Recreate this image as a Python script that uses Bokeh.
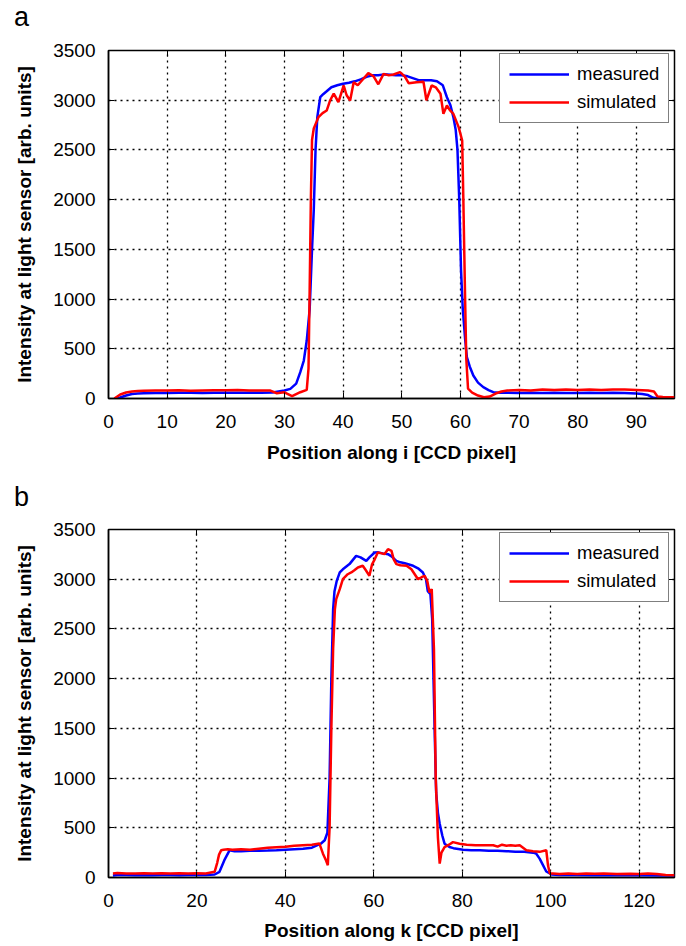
from bokeh.plotting import figure
from bokeh.layouts import column
from bokeh.models import Range1d, FixedTicker, LinearAxis, Legend, LegendItem, Div
from bokeh.embed import file_html
from bokeh.resources import INLINE

# ---------------- data: panel a (position along i) ----------------
A_MEAS_X = [1, 2, 3, 4, 5, 6, 8, 10, 12, 14, 16, 18, 20, 22, 24, 26, 28, 29, 30, 31, 32, 32.7, 33.3, 33.8,
            34.3, 34.7, 35.0, 35.3, 35.6, 36.1, 36.6, 37.2, 38, 39, 40, 41, 42, 43, 44, 45, 46, 47, 48, 49, 50,
            51, 52, 53, 54, 55, 56, 57, 57.7, 58.3, 58.8, 59.2, 59.5, 59.8, 60.1, 60.4, 60.8, 61.1, 61.6, 62.2,
            63, 63.9, 64.8, 65.6, 66.5, 68, 70, 72, 74, 76, 78, 80, 82, 84, 86, 88, 90, 91, 92, 92.9, 94, 96.5]
A_MEAS_Y = [0, 10, 30, 45, 50, 52, 55, 55, 58, 57, 56, 57, 58, 57, 58, 58, 60, 70, 80, 97, 150, 265, 382, 583,
            900, 1500, 1900, 2500, 2830, 3030, 3060, 3090, 3131, 3150, 3165, 3175, 3190, 3210, 3235, 3250, 3250,
            3260, 3255, 3250, 3250, 3240, 3220, 3200, 3200, 3200, 3190, 3150, 3030, 2950, 2830, 2700, 2500, 2000,
            1300, 900, 600, 415, 320, 231, 160, 114, 85, 63, 58, 58, 55, 58, 55, 58, 55, 56, 57, 55, 57, 55, 50,
            45, 35, 7, 0, 0]

A_SIM_X = [1, 2, 3, 4, 5, 6, 8, 10, 12, 14, 16, 18, 20, 22, 24, 26, 27.6, 28.7, 29.9, 31.3, 32.7, 33.8, 34.1,
           34.3, 34.5, 34.7, 35.0, 35.8, 36.5, 37.2, 37.8, 38.4, 39.2, 40.1, 40.6, 41.2, 41.8, 42.5, 43.2, 44.3,
           45.2, 46.0, 46.9, 47.8, 48.6, 49.7, 50.5, 51.2, 52.5, 53.7, 54.2, 55.1, 55.8, 56.6, 57.1, 57.7, 58.2,
           58.8, 59.7, 60.3, 60.5, 60.8, 61.0, 61.3, 62, 63, 64, 65, 66, 67, 68, 70, 72, 74, 76, 78, 80, 82, 84,
           86, 88, 90, 92, 93, 93.6, 94.5, 96.5]
A_SIM_Y = [0, 40, 60, 70, 75, 78, 80, 80, 82, 78, 80, 82, 82, 85, 80, 80, 80, 53, 63, 23, 63, 87, 300, 1100,
           2000, 2600, 2715, 2830, 2870, 2896, 3000, 3067, 2980, 3148, 3050, 2997, 3181, 3150, 3198, 3272, 3240,
           3160, 3265, 3250, 3259, 3282, 3240, 3170, 3181, 3185, 3000, 3148, 3130, 3065, 2863, 2947, 2900, 2863,
           2729, 2595, 2000, 1000, 400, 100, 60, 30, 13, 20, 50, 70, 80, 85, 80, 90, 85, 90, 85, 90, 85, 90, 90,
           85, 80, 70, 20, 15, 13]

# ---------------- data: panel b (position along k) ----------------
B_MEAS_X = [1, 2, 4, 6, 8, 10, 12, 14, 16, 18, 20, 22, 24, 25.1, 26.2, 27.4, 28.5, 30, 32, 34, 36, 38, 40, 42,
            44, 46, 47, 48, 48.9, 49.5, 50.0, 50.4, 50.8, 51.1, 51.6, 52.3, 53, 54.5, 56.0, 57, 58.3, 59, 60.2,
            61, 62, 63.2, 64, 65.1, 66, 67, 68.9, 70, 71.1, 71.8, 72.2, 72.8, 73.2, 73.5, 73.8, 74.1, 74.5, 74.9,
            75.5, 76.0, 77.1, 78, 80.2, 82, 84, 86, 88, 90, 92, 94, 96, 96.7, 97.5, 98.2, 99.0, 100.2, 102, 105,
            110, 115, 120, 125, 128]
B_MEAS_Y = [20, 25, 25, 22, 25, 22, 25, 25, 22, 25, 25, 25, 30, 57, 174, 275, 265, 265, 268, 270, 272, 275, 280,
            285, 290, 300, 320, 340, 375, 450, 1000, 2000, 2700, 2876, 2980, 3068, 3100, 3152, 3235, 3220, 3185,
            3220, 3269, 3270, 3260, 3252, 3230, 3185, 3170, 3160, 3135, 3110, 3068, 3000, 2880, 2850, 2600, 2000,
            1400, 850, 650, 540, 420, 340, 306, 295, 280, 275, 275, 270, 268, 265, 260, 258, 250, 241, 190, 130,
            60, 30, 25, 25, 22, 25, 22, 20, 20]

B_SIM_X = [1, 2, 4, 6, 8, 10, 12, 14, 16, 18, 20, 22, 24.0, 24.6, 25.0, 25.5, 26, 27, 28, 30, 32, 34, 36, 38, 40,
           42, 44, 46, 47.7, 48.5, 49.2, 49.6, 50.0, 50.4, 50.8, 51.2, 51.5, 52.3, 53.0, 54.1, 54.9, 55.6, 56.4,
           57.5, 58.2, 59.0, 59.6, 60.2, 60.9, 61.8, 62.4, 63.2, 64.0, 64.5, 65.1, 66.0, 67.4, 68.5, 70.0, 70.8,
           71.5, 72.1, 72.6, 73.1, 73.6, 74.0, 74.5, 74.9, 75.3, 76.0, 77.0, 77.9, 79.4, 81, 83, 85, 87, 88, 89,
           90, 91, 92, 93, 94.5, 96, 97.5, 99.0, 99.4, 99.8, 100.5, 102, 104, 106, 108, 110, 112, 115, 118, 120,
           122, 124, 126, 128]
B_SIM_Y = [40, 45, 40, 40, 42, 40, 42, 40, 42, 40, 42, 40, 57, 150, 230, 275, 280, 285, 280, 285, 280, 290, 300,
           305, 310, 320, 325, 330, 341, 240, 170, 123, 500, 1500, 2300, 2700, 2800, 2900, 3000, 3050, 3068, 3090,
           3118, 3135, 3090, 3034, 3150, 3200, 3269, 3260, 3252, 3302, 3285, 3200, 3152, 3140, 3135, 3100, 3000,
           3020, 3034, 2980, 2867, 2900, 2300, 1000, 400, 140, 250, 306, 330, 356, 340, 330, 325, 324, 324, 310,
           330, 320, 324, 320, 324, 274, 265, 258, 274, 120, 40, 40, 35, 40, 35, 40, 38, 40, 35, 38, 35, 40, 35,
           25, 23]

Y_TICKS = [0, 500, 1000, 1500, 2000, 2500, 3000, 3500]
X_TICKS_A = [0, 10, 20, 30, 40, 50, 60, 70, 80, 90]
X_TICKS_B = [0, 20, 40, 60, 80, 100, 120]
LEGEND_LABELS = ["measured", "simulated"]
Y_LABEL = "Intensity at light sensor [arb. units]"

FONT = "Liberation Sans"
FRAME_H = 348
LEFT = 108
RIGHT = 6
WIDTH = 680


def letter_div(letter, top_margin):
    return Div(text=letter, width=40, height=28, margin=(top_margin, 0, 0, 14),
               styles={"font-family": FONT, "font-size": "27px", "line-height": "27px", "color": "black"})


def panel(mx, my, sx, sy, xend, xticks, xlabel, top, bottom, tick_sd, lab_sd):
    p = figure(width=WIDTH, height=top + FRAME_H + bottom, x_range=Range1d(0, xend), y_range=Range1d(0, 3500),
               output_backend="svg", toolbar_location=None,
               min_border_left=LEFT, min_border_right=RIGHT, min_border_top=top, min_border_bottom=bottom)
    p.background_fill_color = "white"
    p.border_fill_color = "white"
    p.outline_line_color = "black"
    p.outline_line_width = 1.5

    for g in (p.xgrid, p.ygrid):
        g.grid_line_color = "black"
        g.grid_line_dash = "2 4"
        g.grid_line_width = 1.3
    p.xgrid.ticker = FixedTicker(ticks=xticks)
    p.ygrid.ticker = FixedTicker(ticks=Y_TICKS)

    xa = p.xaxis[0]
    ya = p.yaxis[0]
    xa.ticker = FixedTicker(ticks=xticks)
    ya.ticker = FixedTicker(ticks=Y_TICKS)
    xa.axis_label = xlabel
    ya.axis_label = Y_LABEL
    for ax in (xa, ya):
        ax.axis_line_color = "black"
        ax.axis_line_width = 1.5
        ax.major_tick_in = 6
        ax.major_tick_out = 0
        ax.major_tick_line_color = "black"
        ax.minor_tick_line_color = None
        ax.major_label_text_font = FONT
        ax.major_label_text_font_size = "19px"
        ax.major_label_text_color = "black"
        ax.axis_label_text_font = FONT
        ax.axis_label_text_font_size = "19px"
        ax.axis_label_text_font_style = "bold"
        ax.axis_label_text_color = "black"
    xa.major_label_standoff = tick_sd
    xa.axis_label_standoff = lab_sd
    ya.major_label_standoff = 13
    ya.axis_label_standoff = 15

    # inward ticks on top and right (MATLAB box)
    for loc, tk in (("above", xticks), ("right", Y_TICKS)):
        ax = LinearAxis(ticker=FixedTicker(ticks=tk))
        ax.major_label_text_font_size = "1px"
        ax.major_label_text_color = None
        ax.major_label_standoff = 0
        ax.major_tick_in = 6
        ax.major_tick_out = 0
        ax.minor_tick_line_color = None
        ax.axis_line_color = None
        ax.major_tick_line_color = "black"
        p.add_layout(ax, loc)

    r1 = p.line(mx, my, line_color="#0000ff", line_width=2.5)
    r2 = p.line(sx, sy, line_color="#ff0000", line_width=2.5)

    leg = Legend(items=[LegendItem(label=LEGEND_LABELS[0], renderers=[r1]),
                        LegendItem(label=LEGEND_LABELS[1], renderers=[r2])],
                 location=(391, FRAME_H - 11 - 62))
    leg.label_text_font = FONT
    leg.label_text_font_size = "18.5px"
    leg.label_text_color = "black"
    leg.glyph_width = 60
    leg.glyph_height = 20
    leg.label_height = 20
    leg.label_standoff = 8
    leg.padding = 9
    leg.spacing = 6
    leg.border_line_color = "black"
    leg.border_line_width = 1.5
    leg.background_fill_color = "white"
    leg.background_fill_alpha = 1
    p.add_layout(leg)
    return p


da = letter_div("a", 4)
pa = panel(A_MEAS_X, A_MEAS_Y, A_SIM_X, A_SIM_Y, 96.5, X_TICKS_A, "Position along i [CCD pixel]",
           18, 80, 16, 11)
db = letter_div("b", 6)
pb = panel(B_MEAS_X, B_MEAS_Y, B_SIM_X, B_SIM_Y, 128, X_TICKS_B, "Position along k [CCD pixel]",
           17, 69, 16, 10)

layout = column(da, pa, db, pb, spacing=0)
open("out.html", "w").write(file_html(layout, INLINE))
